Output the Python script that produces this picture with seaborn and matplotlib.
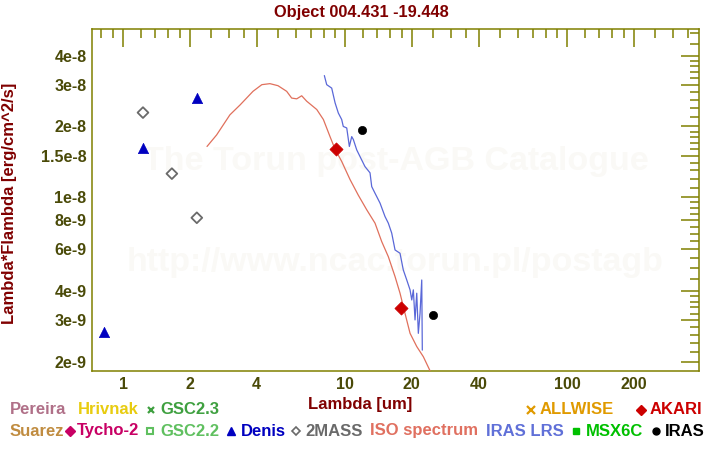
import matplotlib
matplotlib.use("Agg")
import matplotlib.pyplot as plt
from matplotlib.lines import Line2D
from matplotlib.ticker import NullFormatter, FixedLocator
import seaborn as sns
import pandas as pd

sns.set_style("white")
plt.rcParams['font.family'] = ['Liberation Sans', 'DejaVu Sans']

# ---------------- data ----------------
title = "Object 004.431 -19.448"

denis_wl = [0.82, 1.23, 2.15]
denis_f = [2.67e-9, 1.62e-8, 2.65e-8]

twomass_wl = [1.23, 1.66, 2.15]
twomass_f = [2.29e-8, 1.26e-8, 8.18e-9]

akari_wl = [9.1, 17.9]
akari_f = [1.61e-8, 3.38e-9]

iras_wl = [11.9, 24.9]
iras_f = [1.94e-8, 3.16e-9]

iso_wl = [2.39, 2.64, 3.03, 3.37, 3.85, 4.22, 4.59, 4.99, 5.46, 5.75, 6.06, 6.38,
          6.72, 7.46, 7.99, 8.56, 9.02, 9.66, 10.53, 11.48, 12.53, 13.65, 14.63,
          15.67, 16.8, 17.69, 18.63, 19.63, 21.04, 22.53, 24.15]
iso_f = [1.644e-8, 1.84e-8, 2.24e-8, 2.47e-8, 2.82e-8, 3.01e-8, 3.04e-8, 2.98e-8,
         2.82e-8, 2.64e-8, 2.62e-8, 2.70e-8, 2.56e-8, 2.36e-8, 2.14e-8, 1.81e-8,
         1.60e-8, 1.42e-8, 1.19e-8, 1.02e-8, 8.84e-9, 7.76e-9, 6.48e-9, 5.59e-9,
         4.60e-9, 3.91e-9, 3.21e-9, 2.64e-9, 2.32e-9, 2.10e-9, 1.83e-9]

lrs_wl = [8.07, 8.27, 8.71, 9.02, 9.33, 9.66, 9.82, 10.18, 10.46, 10.72, 10.9,
          11.29, 11.89, 12.3, 12.96, 13.19, 13.65, 14.38, 15.14, 15.67, 16.23,
          16.8, 17.69, 18.3, 18.97, 19.63, 19.98, 20.31, 20.67, 21.04, 21.39,
          21.77, 22.16, 22.29]
lrs_f = [3.29e-8, 3.01e-8, 2.91e-8, 2.52e-8, 2.28e-8, 2.14e-8, 2.0e-8, 1.97e-8,
         1.644e-8, 1.81e-8, 1.76e-8, 1.59e-8, 1.44e-8, 1.35e-8, 1.27e-8, 1.11e-8,
         1.04e-8, 9.44e-9, 8.28e-9, 7.76e-9, 7.04e-9, 5.97e-9, 5.78e-9, 4.91e-9,
         4.45e-9, 4.04e-9, 3.66e-9, 4.04e-9, 3.01e-9, 3.91e-9, 2.64e-9, 3.21e-9,
         4.45e-9, 2.24e-9]

x_major = [1, 2, 4, 10, 20, 40, 100, 200]
x_major_labels = ["1", "2", "4", "10", "20", "40", "100", "200"]
x_minor = [0.8, 0.9, 1.2, 1.4, 1.6, 1.8, 2.5, 3, 3.5, 5, 6, 7, 8, 9,
           12, 14, 16, 18, 25, 30, 35, 50, 60, 70, 80, 90,
           120, 140, 160, 180, 250, 300, 350]
y_major = [2e-9, 3e-9, 4e-9, 6e-9, 8e-9, 1e-8, 1.5e-8, 2e-8, 3e-8, 4e-8]
y_major_labels = ["2e-9", "3e-9", "4e-9", "6e-9", "8e-9", "1e-8", "1.5e-8",
                  "2e-8", "3e-8", "4e-8"]
y_minor = [2.2e-9, 2.4e-9, 2.6e-9, 2.8e-9, 3.2e-9, 3.4e-9, 3.6e-9, 3.8e-9,
           4.5e-9, 5e-9, 5.5e-9, 6.5e-9, 7e-9, 7.5e-9, 8.5e-9, 9e-9, 9.5e-9,
           1.1e-8, 1.2e-8, 1.3e-8, 1.4e-8, 1.6e-8, 1.7e-8, 1.8e-8, 1.9e-8,
           2.2e-8, 2.4e-8, 2.6e-8, 2.8e-8, 3.2e-8, 3.4e-8, 3.6e-8, 3.8e-8,
           4.5e-8, 5e-8]

# ---------------- styles ----------------
OLIVE = "#808000"
TICKTXT = "#4a4a08"
DARKRED = "#800000"
ISO_C = "#e0705c"
LRS_C = "#5a68d8"
WATER = "#faf9f6"

W, H = 720, 450
fig = plt.figure(figsize=(7.2, 4.5), dpi=100)
ax = fig.add_axes([92 / W, 1 - 371 / H, (699 - 92) / W, (371 - 29) / H])
ax.set_xscale("log")
ax.set_yscale("log")

# watermark
ax.text(0.5, (371 - 162) / 342, "The Torun post-AGB Catalogue", transform=ax.transAxes,
        ha="center", va="center", fontsize=24.5, fontweight="bold", color=WATER, zorder=0)
ax.text(0.5, (371 - 262) / 342, "http://www.ncac.torun.pl/postagb", transform=ax.transAxes,
        ha="center", va="center", fontsize=24.5, fontweight="bold", color=WATER, zorder=0)

iso_df = pd.DataFrame({"wl": iso_wl, "f": iso_f})
lrs_df = pd.DataFrame({"wl": lrs_wl, "f": lrs_f})
sns.lineplot(data=iso_df, x="wl", y="f", ax=ax, color=ISO_C, lw=0.9, sort=False,
             estimator=None, zorder=3)
sns.lineplot(data=lrs_df, x="wl", y="f", ax=ax, color=LRS_C, lw=0.9, sort=False,
             estimator=None, zorder=3)

sns.scatterplot(x=denis_wl, y=denis_f, ax=ax, marker="^", s=55, color="#0000c0",
                edgecolor="#0000c0", linewidth=0.5, zorder=4)
sns.scatterplot(x=twomass_wl, y=twomass_f, ax=ax, marker="D", s=30, facecolor="none",
                edgecolor="#6a6a6a", linewidth=1.3, zorder=4)
sns.scatterplot(x=akari_wl, y=akari_f, ax=ax, marker="D", s=45, color="#cc0000",
                edgecolor="#cc0000", linewidth=0.5, zorder=5)
sns.scatterplot(x=iras_wl, y=iras_f, ax=ax, marker="o", s=35, color="black",
                edgecolor="black", linewidth=0.5, zorder=5)

ax.set_xlim(0.725, 393)
ax.set_ylim(1.826e-9, 5.19e-8)

ax.xaxis.set_major_locator(FixedLocator(x_major))
ax.set_xticklabels(x_major_labels)
ax.xaxis.set_minor_locator(FixedLocator(x_minor))
ax.xaxis.set_minor_formatter(NullFormatter())
ax.yaxis.set_major_locator(FixedLocator(y_major))
ax.set_yticklabels(y_major_labels)
ax.yaxis.set_minor_locator(FixedLocator(y_minor))
ax.yaxis.set_minor_formatter(NullFormatter())

ax.tick_params(which="both", direction="in", top=True, right=True, color=OLIVE,
               width=1.1)
ax.tick_params(which="major", length=13, pad=4, labelsize=11.5, labelcolor=TICKTXT)
ax.tick_params(which="minor", length=6.5)
for lab in ax.get_xticklabels() + ax.get_yticklabels():
    lab.set_fontweight("bold")
for sp in ax.spines.values():
    sp.set_color(OLIVE)
    sp.set_linewidth(1.1)
ax.set_xlabel("")
ax.set_ylabel("")

# titles / labels
fig.text(361 / W, 1 - 12 / H, title, ha="center", va="center", fontsize=11.8,
         fontweight="bold", color=DARKRED)
fig.text(360 / W, 1 - 404 / H, "Lambda [um]", ha="center", va="center", fontsize=12,
         fontweight="bold", color=DARKRED)
fig.text(10 / W, 1 - 203 / H, "Lambda*Flambda [erg/cm^2/s]", ha="center", va="center",
         rotation=90, fontsize=12, fontweight="bold", color=DARKRED)

# legend (catalogue names)
def leg_text(x, y, s, c):
    fig.text(x / W, 1 - y / H, s, ha="left", va="center", fontsize=12,
             fontweight="bold", color=c)

def leg_mark(x, y, m, c, ms, fill=True, mew=1.0):
    fig.add_artist(Line2D([x / W], [1 - y / H], transform=fig.transFigure, marker=m,
                          markersize=ms, color=c, markerfacecolor=c if fill else "none",
                          markeredgecolor=c, markeredgewidth=mew, linestyle="none"))

r1, r2 = 410, 431
leg_text(10, r1, "Pereira", "#b07088")
leg_text(78, r1, "Hrivnak", "#e8cc10")
leg_mark(151, r1, "x", "#3fa040", 5, mew=1.6)
leg_text(160, r1, "GSC2.3", "#3fa040")
leg_mark(531, r1, "x", "#e09a00", 6, mew=1.6)
leg_text(540, r1, "ALLWISE", "#e09a00")
leg_mark(641, r1, "D", "#cc0000", 5)
leg_text(650, r1, "AKARI", "#cc0000")

leg_text(10, r2, "Suarez", "#c08c40")
leg_mark(70, r2, "D", "#c80064", 5)
leg_text(77, r2, "Tycho-2", "#c80064")
leg_mark(150, r2, "s", "#60c060", 4.5, fill=False, mew=1.5)
leg_text(160, r2, "GSC2.2", "#60c060")
leg_mark(231, r2, "^", "#0000c0", 6)
leg_text(241, r2, "Denis", "#0000c0")
leg_mark(296, r2, "D", "#6a6a6a", 4.5, fill=False, mew=1.2)
leg_text(305, r2, "2MASS", "#6a6a6a")
leg_text(370, r2, "ISO spectrum", "#e07060")
leg_text(486, r2, "IRAS LRS", "#6070d8")
leg_mark(576, r2, "s", "#00c000", 5)
leg_text(586, r2, "MSX6C", "#00c000")
leg_mark(656, r2, "o", "black", 5)
leg_text(665, r2, "IRAS", "black")

fig.savefig("out.png", dpi=100)
